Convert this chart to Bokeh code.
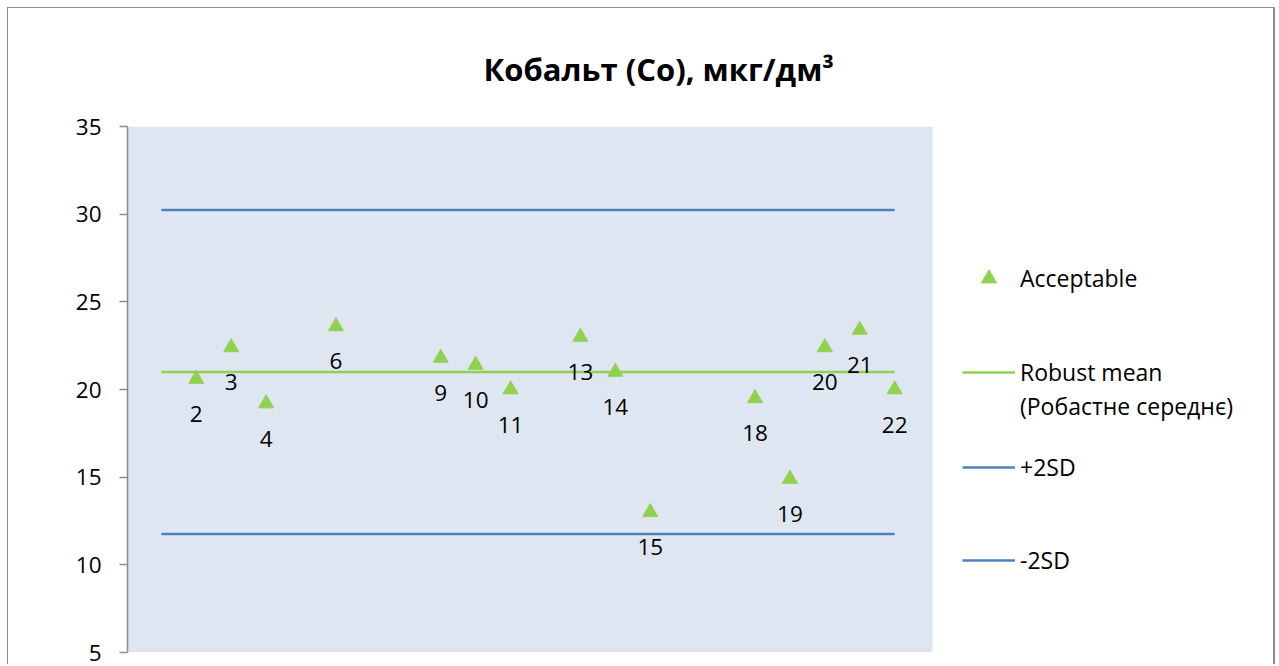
from bokeh.plotting import figure
from bokeh.models import Range1d, FixedTicker, Legend, LegendItem, ColumnDataSource, BoxAnnotation
from bokeh.core.properties import value
from bokeh.embed import file_html
from bokeh.resources import INLINE

# ---- data ----
codes = [2, 3, 4, 6, 9, 10, 11, 13, 14, 15, 18, 19, 20, 21, 22]
results = [20.6, 22.4, 19.2, 23.6, 21.8, 21.4, 20.0, 23.0, 21.0, 13.0, 19.5, 14.9, 22.4, 23.4, 20.0]
code_labels = [str(c) for c in codes]
line_x = [1, 22]
robust_mean = 21.0
plus_2sd = 30.24
minus_2sd = 11.76
y_ticks = [5, 10, 15, 20, 25, 30, 35]

title_text = "Кобальт (Co), мкг/дм³"
legend_labels = ["Acceptable", "Robust mean", "(Робастне середнє)", "+2SD", "-2SD"]
FONT = "Open Sans"
GREEN = "#92D050"
BLUE = "#4F81BD"

# layout (pixels)
W, H = 1268, 657
MB_L, MB_T, MB_B = 119, 117, 13
FRAME_W = W - MB_L          # frame runs to the right edge; legend lives inside it
PLOT_W = 805                # width of the shaded plot area
PX_PER_UNIT = 34.92
x0 = 0.03
x_end = x0 + FRAME_W / PX_PER_UNIT
shade_right = x0 + PLOT_W / PX_PER_UNIT

p = figure(width=W, height=H, output_backend="svg", toolbar_location=None,
           x_range=Range1d(x0, x_end), y_range=Range1d(5, 35), x_axis_location=None,
           min_border_left=MB_L, min_border_right=0, min_border_top=MB_T, min_border_bottom=MB_B)
p.styles = {"margin-left": "7px", "margin-top": "7px",
            "border-top": "1px solid #8c8c8c", "border-left": "1px solid #8c8c8c",
            "border-right": "2px solid #8c8c8c"}

p.background_fill_color = "white"
p.border_fill_color = "white"
p.outline_line_color = None
p.grid.visible = False
p.add_layout(BoxAnnotation(left=x0, right=shade_right, fill_color="#DEE6F2", fill_alpha=1,
                           line_alpha=0, level="underlay"))

p.title.text = title_text
p.title.align = "left"
p.title.text_font = FONT
p.title.text_font_style = "bold"
p.title.text_font_size = "31px"
p.title.text_color = "black"
p.title.offset = 356
p.title.standoff = 74

ax = p.yaxis[0]
ax.ticker = FixedTicker(ticks=y_ticks)
ax.axis_line_color = "#8c8c8c"
ax.axis_line_width = 1.5
ax.major_tick_line_color = "#8c8c8c"
ax.major_tick_line_width = 1.5
ax.major_tick_out = 8
ax.major_tick_in = 0
ax.minor_tick_line_color = None
ax.major_label_standoff = 18
ax.major_label_text_font = FONT
ax.major_label_text_font_size = "22.5px"
ax.major_label_text_color = "black"

r_plus = p.line(line_x, [plus_2sd, plus_2sd], line_color=BLUE, line_width=2.5)
r_minus = p.line(line_x, [minus_2sd, minus_2sd], line_color=BLUE, line_width=2.5)
r_mean = p.line(line_x, [robust_mean, robust_mean], line_color=GREEN, line_width=2.5)
r_blank = p.line(line_x, [robust_mean, robust_mean], line_alpha=0)

src = ColumnDataSource(dict(x=codes, y=results, lab=code_labels))
r_pts = p.scatter("x", "y", source=src, marker="triangle", size=15,
                  fill_color=GREEN, line_color=GREEN)
p.text("x", "y", text="lab", source=src, y_offset=35, text_align="center",
       text_baseline="middle", text_font=value(FONT), text_font_size="22.5px",
       text_color="black")


def add_legend(label, renderer, vy, gh=20):
    leg = Legend(items=[LegendItem(label=label, renderers=[renderer])],
                 location=(835, vy), orientation="vertical",
                 glyph_width=53, glyph_height=gh, label_height=20, label_standoff=5,
                 padding=0, spacing=0, margin=0,
                 border_line_alpha=0, background_fill_alpha=0,
                 label_text_font=FONT, label_text_font_size="23px",
                 label_text_color="black")
    p.add_layout(leg)


add_legend(legend_labels[0], r_pts, 355, gh=38)
add_legend(legend_labels[1], r_mean, 264)
add_legend(legend_labels[2], r_blank, 230)
add_legend(legend_labels[3], r_plus, 169)
add_legend(legend_labels[4], r_minus, 76)

open("out.html", "w").write(file_html(p, INLINE))
